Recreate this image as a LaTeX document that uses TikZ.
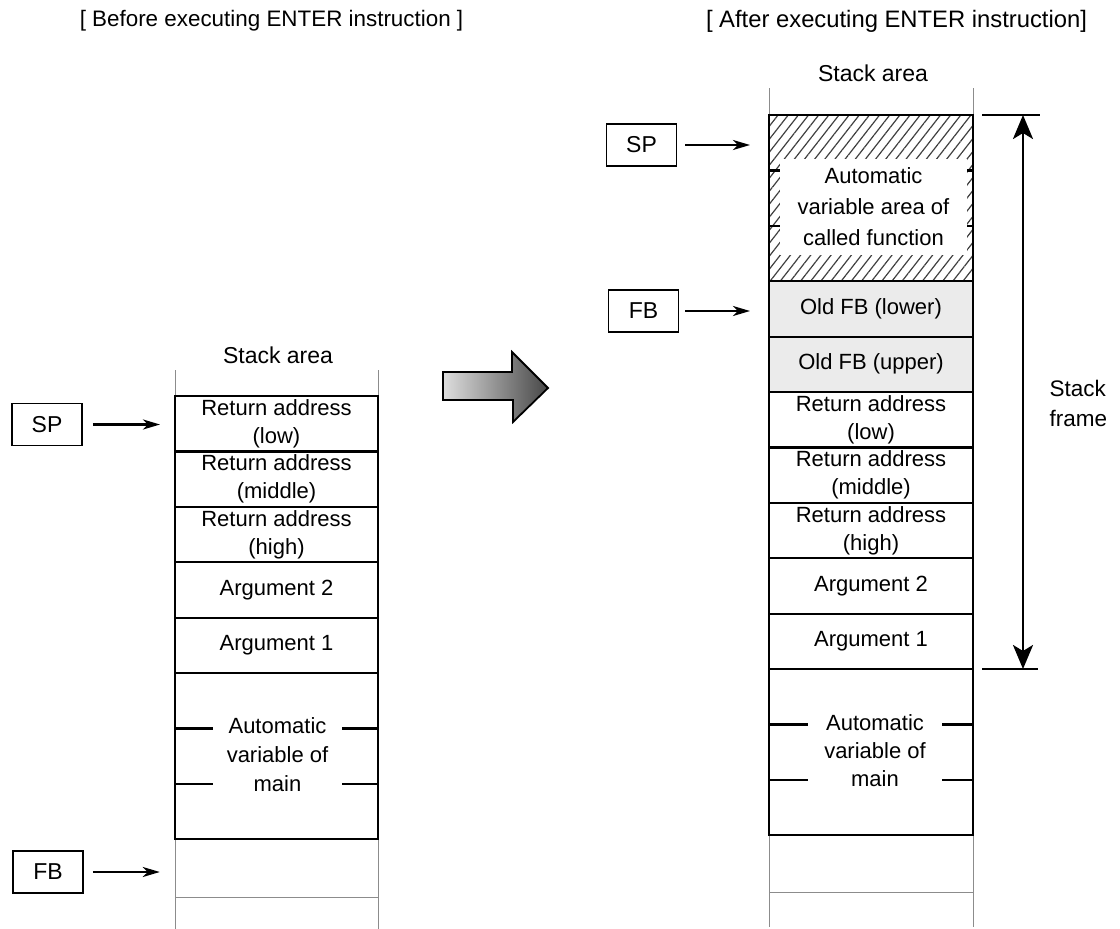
\documentclass[tikz,border=0pt]{standalone}
\usepackage{fontspec}
\setmainfont{Liberation Sans}
\usetikzlibrary{arrows.meta,patterns.meta,calc}
\begin{document}
\begin{tikzpicture}[x=1pt,y=-1pt,
  txt/.style={font=\fontsize{22}{28}\selectfont},
  cell/.style={txt,draw,line width=2.2pt,minimum width=203pt,minimum height=55.4pt,inner sep=0pt,outer sep=0pt,align=center},
  oldfb/.style={cell,fill=black!8},
  blank/.style={fill=white,inner sep=0pt,align=center,font=\fontsize{22}{29}\selectfont},
  divider/.style={line width=2.2pt},
  rail/.style={line width=0.9pt,draw=black!45},
  regbox/.style={draw,line width=1.7pt,minimum width=70pt,minimum height=42pt,inner sep=0pt,font=\fontsize{23}{28}\selectfont},
  ptr/.style={line width=2.5pt,-{Stealth[length=17pt,width=10pt,inset=5pt]}},
  span/.style={line width=2.8pt,{Stealth[length=24pt,width=20pt,inset=6pt]}-{Stealth[length=24pt,width=20pt,inset=6pt]}},
  tick/.style={line width=2.4pt}
]
\useasboundingbox (0,0) rectangle (1120,929);

% titles
\node[font=\fontsize{22.4}{26}\selectfont] (t1) at (271.5,21) {[ Before executing ENTER instruction ]};
\node[font=\fontsize{23.8}{26}\selectfont] (t2) at (896.5,21) {[ After executing ENTER instruction]};

% ---------- left stack ----------
\node[txt,font=\fontsize{23}{28}\selectfont] (lsa) at (278,355) {Stack area};
\draw[rail] (175,370) -- (175,929);
\draw[rail] (378,370) -- (378,929);
\draw[rail] (175,897) -- (378,897);

\node[cell] (L1) at (276.5,423.7) {Return address\\(low)};
\node[cell] (L2) at (276.5,479.1) {Return address\\(middle)};
\node[cell] (L3) at (276.5,534.5) {Return address\\(high)};
\node[cell] (L4) at (276.5,589.9) {Argument 2};
\node[cell] (L5) at (276.5,645.3) {Argument 1};
\node[cell,minimum height=166.2pt] (L6) at (276.5,756.1) {};
\draw[divider] ($(L6.north west)+(0,55.4)$) -- ($(L6.north east)+(0,55.4)$);
\draw[divider] ($(L6.north west)+(0,110.8)$) -- ($(L6.north east)+(0,110.8)$);
\node[blank,minimum width=129pt,minimum height=80pt] (L6t) at (277.5,755) {Automatic\\variable of\\main};
\node[minimum width=203pt,minimum height=57.8pt,inner sep=0pt] (LFB) at (276.5,868) {};

\node[regbox] (SP1) at (47,424.5) {SP};
\node[regbox] (FB1) at (48,872) {FB};
\draw[ptr,shorten <=10pt,shorten >=15pt] (SP1) -- (SP1 -| L1.west);
\draw[ptr,shorten <=9pt,shorten >=15pt] (FB1) -- (FB1 -| LFB.west);

% ---------- big arrow ----------
\shadedraw[left color=black!13,right color=black!72,line width=1.8pt,line join=miter]
  (443,372) -- (512,372) -- (512,352) -- (548,388) -- (513,422) -- (513,400) -- (443,400) -- cycle;

% ---------- right stack ----------
\node[txt,font=\fontsize{23}{28}\selectfont] (rsa) at (873,73) {Stack area};
\draw[rail] (769,88) -- (769,927);
\draw[rail] (973,88) -- (973,927);
\draw[rail] (769,892) -- (973,892);

\node[cell,minimum width=204pt,minimum height=166.2pt,
      pattern={Lines[angle=52,distance=8pt,line width=1.2pt]},pattern color=black!75] (R0) at (871,198.1) {};
\draw[divider] ($(R0.north west)+(0,55.4)$) -- ($(R0.north east)+(0,55.4)$);
\draw[divider] ($(R0.north west)+(0,110.8)$) -- ($(R0.north east)+(0,110.8)$);
\node[blank,minimum width=187pt,minimum height=96pt,font=\fontsize{22}{31}\selectfont] (R0t) at (873.5,207) {Automatic\\variable area of\\called function};

\node[oldfb,minimum width=204pt] (R1) at (871,308.9) {Old FB (lower)};
\node[oldfb,minimum width=204pt] (R2) at (871,364.3) {Old FB (upper)};
\node[cell,minimum width=204pt] (R3) at (871,419.7) {Return address\\(low)};
\node[cell,minimum width=204pt] (R4) at (871,475.1) {Return address\\(middle)};
\node[cell,minimum width=204pt] (R5) at (871,530.5) {Return address\\(high)};
\node[cell,minimum width=204pt] (R6) at (871,585.9) {Argument 2};
\node[cell,minimum width=204pt] (R7) at (871,641.3) {Argument 1};
\node[cell,minimum width=204pt,minimum height=166.2pt] (R8) at (871,752.1) {};
\draw[divider] ($(R8.north west)+(0,55.4)$) -- ($(R8.north east)+(0,55.4)$);
\draw[divider] ($(R8.north west)+(0,110.8)$) -- ($(R8.north east)+(0,110.8)$);
\node[blank,minimum width=134pt,minimum height=80pt,font=\fontsize{22}{28}\selectfont] (R8t) at (875,750.5) {Automatic\\variable of\\main};

\node[regbox] (SP2) at (641.5,145) {SP};
\node[regbox] (FB2) at (643.5,311) {FB};
\draw[ptr,shorten <=8pt,shorten >=19pt] (SP2) -- (SP2 -| R0.west);
\draw[ptr,shorten <=6pt,shorten >=19pt] (FB2) -- (FB2 -| R1.west);

% ---------- stack frame span ----------
\coordinate (ft) at (1023,115);
\coordinate (fb) at (1023,669);
\draw[tick] ($(ft)+(-41,0)$) -- ($(ft)+(17,0)$);
\draw[tick] ($(fb)+(-41,0)$) -- ($(fb)+(15,0)$);
\draw[span] (ft) -- (fb);
\node[anchor=west,align=left,font=\fontsize{22.5}{30}\selectfont] (sf) at (1046,403) {Stack\\frame};
\end{tikzpicture}
\end{document}
